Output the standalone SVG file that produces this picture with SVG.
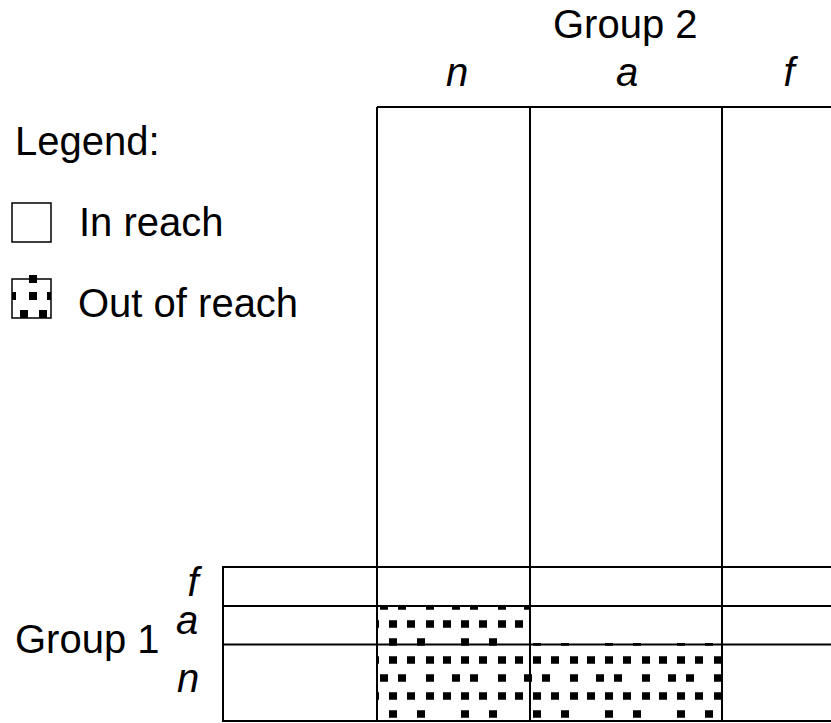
<svg xmlns="http://www.w3.org/2000/svg" width="831" height="723" viewBox="0 0 831 723">
<style>
text{font-family:"Liberation Sans",Arial,sans-serif;font-size:40px;fill:#000}
.it{font-style:italic}
.grid line{stroke:#000;stroke-width:2}
</style>
<defs>
<pattern id="dots" patternUnits="userSpaceOnUse" x="375" y="597" width="72" height="72">
<g fill="#000">
<rect x="5" y="5.25" width="8" height="7.5"/><rect x="23" y="5.25" width="8" height="7.5"/><rect x="51" y="5.25" width="8" height="7.5"/>
<rect x="-4" y="23.25" width="8" height="7.5"/><rect x="68" y="23.25" width="8" height="7.5"/><rect x="14" y="23.25" width="8" height="7.5"/><rect x="32" y="23.25" width="8" height="7.5"/><rect x="51" y="23.25" width="8" height="7.5"/>
<rect x="14" y="41.25" width="8" height="7.5"/><rect x="42" y="41.25" width="8" height="7.5"/>
<rect x="-4" y="59.25" width="8" height="7.5"/><rect x="68" y="59.25" width="8" height="7.5"/><rect x="14" y="59.25" width="8" height="7.5"/><rect x="32" y="59.25" width="8" height="7.5"/><rect x="51" y="59.25" width="8" height="7.5"/>
</g>
</pattern>
<clipPath id="lgclip"><rect x="12" y="274" width="39" height="44"/></clipPath>
</defs>

<g id="legend">
<text x="15" y="155">Legend:</text>
<g id="legend-in">
<rect x="12" y="203" width="39" height="39" fill="#fff" stroke="#000" stroke-width="1.5"/>
<text x="79" y="236">In reach</text>
</g>
<g id="legend-out">
<g clip-path="url(#lgclip)" fill="#000">
<rect x="29" y="275" width="8" height="8"/>
<rect x="8" y="292" width="8" height="8"/><rect x="29" y="292" width="8" height="8"/><rect x="47" y="292" width="8" height="8"/>
<rect x="20" y="310" width="8" height="8"/><rect x="39" y="310" width="8" height="8"/>
</g>
<rect x="12" y="279" width="39" height="39" fill="none" stroke="#000" stroke-width="1.5"/>
<text x="78" y="317">Out of reach</text>
</g>
</g>

<g id="headers">
<text x="553" y="38">Group 2</text>
<text class="it" x="457" y="86" text-anchor="middle">n</text>
<text class="it" x="627" y="86" text-anchor="middle">a</text>
<text class="it" x="789" y="86" text-anchor="middle">f</text>
<text x="15" y="653">Group 1</text>
<text class="it" x="193" y="596" text-anchor="middle">f</text>
<text class="it" x="187" y="634" text-anchor="middle">a</text>
<text class="it" x="188" y="692" text-anchor="middle">n</text>
</g>

<g id="cells">
<rect id="cell-a-n" x="377" y="606" width="153" height="39" fill="url(#dots)"/>
<rect id="cell-n-n" x="377" y="643" width="345" height="78" fill="url(#dots)"/>
</g>

<g id="connectors" class="grid">
<line x1="377" y1="107" x2="831" y2="107"/>
<line x1="377" y1="107" x2="377" y2="722"/>
<line x1="530" y1="107" x2="530" y2="722"/>
<line x1="722" y1="107" x2="722" y2="722"/>
<line x1="223" y1="567" x2="223" y2="722"/>
<line x1="222" y1="567" x2="831" y2="567"/>
<line x1="222" y1="606" x2="831" y2="606"/>
<line x1="222" y1="644.5" x2="831" y2="644.5"/>
<line x1="222" y1="721" x2="831" y2="721"/>
</g>
</svg>
